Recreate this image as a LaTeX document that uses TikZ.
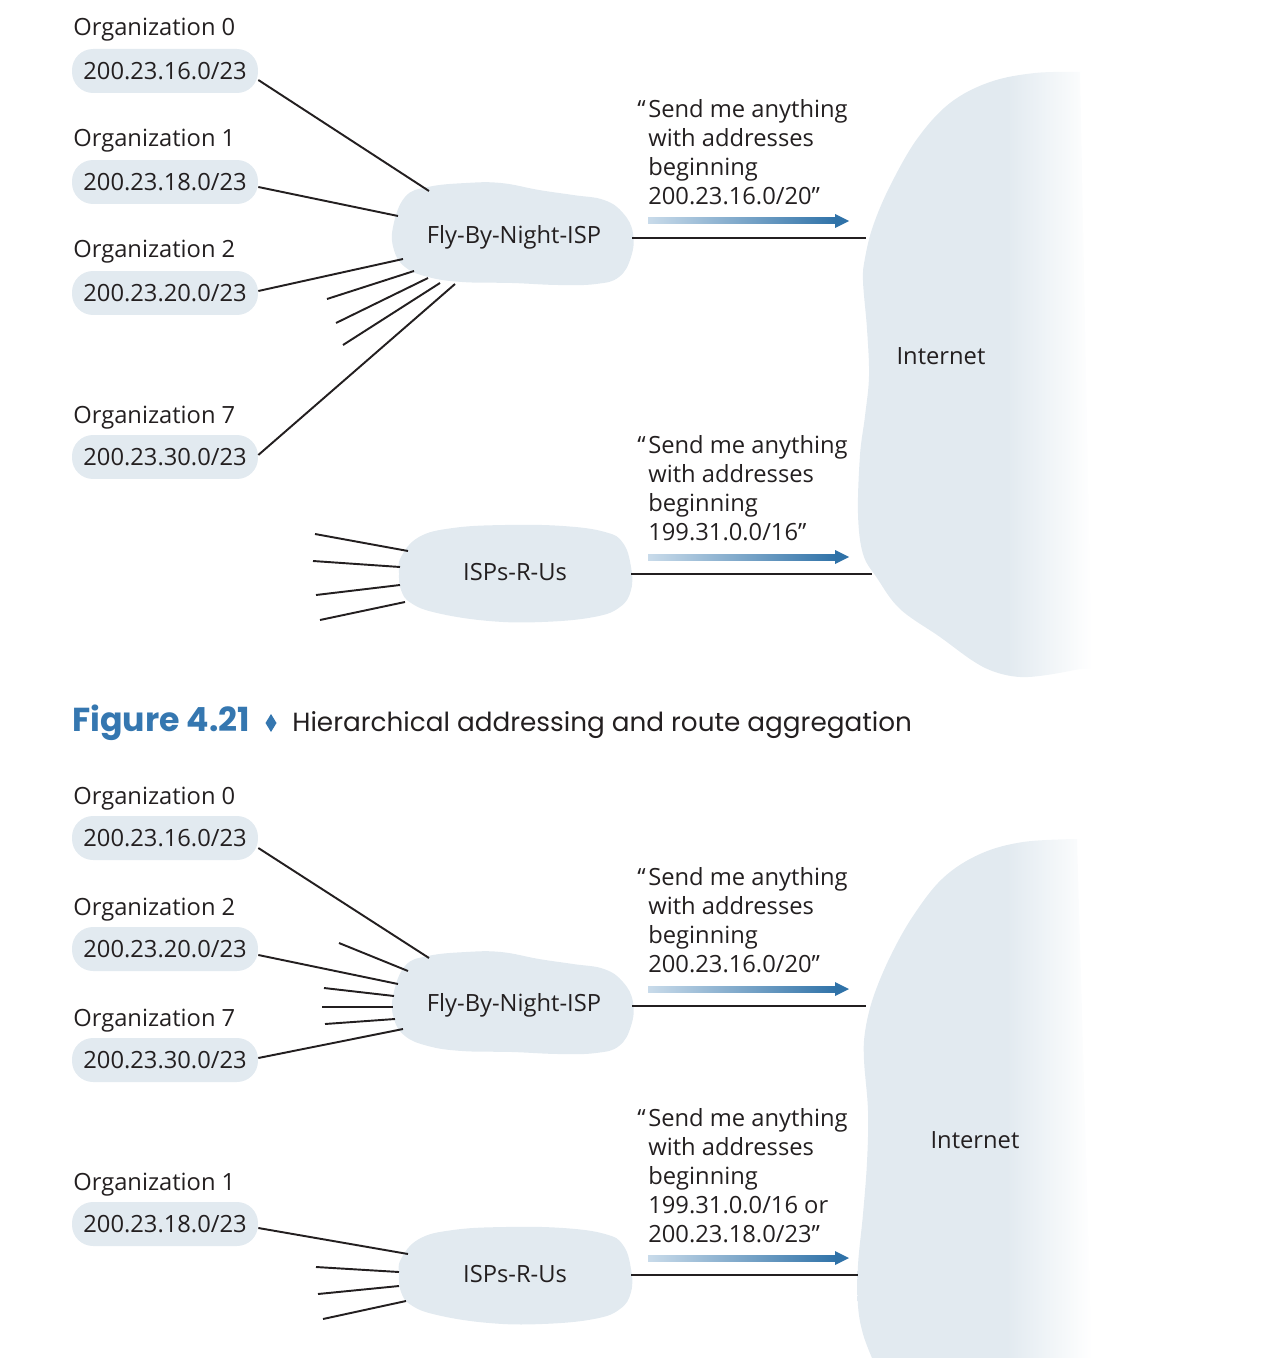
\documentclass[tikz,border=0pt]{standalone}
\usepackage{fontspec}
\setmainfont{Open Sans}
\newfontfamily\capfont{Poppins}
\definecolor{cloudc}{HTML}{E2EAF0}
\definecolor{txt}{HTML}{231F20}
\definecolor{ablue}{HTML}{2F72A8}
\definecolor{alight}{HTML}{C9DBEA}
\definecolor{capblue}{HTML}{3577B0}
\pgfdeclarehorizontalshading{inetfade}{100bp}{color(0bp)=(cloudc); color(25bp)=(cloudc); color(57bp)=(cloudc); color(75bp)=(white); color(100bp)=(white)}
\tikzset{
  lnk/.style={line width=1.1pt, draw=txt},
  pill/.style={fill=cloudc, rounded corners=0.42cm, minimum width=3.72cm, minimum height=0.88cm, inner sep=0pt, text=txt},
  lbl/.style={anchor=base west, inner sep=0pt, text=txt},
  msg/.style={anchor=north west, inner sep=0pt, align=left, text=txt},
  cloudtxt/.style={inner sep=0pt, text=txt},
  fbnshape/.style={fill=cloudc},
}
\newcommand{\fbnpath}{plot[smooth cycle, tension=0.7] coordinates {(-120,-7) (-108,-37) (-85,-47) (-47,-51) (-12,-51) (26,-44) (60,-39) (91,-34) (110,-21) (120,-1) (118,23) (106,43) (83,50) (45,51) (-1,49) (-51,48) (-85,43) (-108,33) (-119,16)}}
\newcommand{\isppath}{plot[smooth cycle, tension=0.7] coordinates {(-116,1) (-114,-15) (-96,-35) (-62,-44) (-10,-47) (48,-46) (90,-40) (108,-29) (116,-5) (116,18) (105,35) (79,45) (27,50) (-26,49) (-78,41) (-104,31) (-114,18)}}
\newcommand{\sendarrow}[1]{%
  \shade[left color=alight, right color=ablue] (648,#1-3) rectangle (837,#1+3);
  \fill[ablue] (835,#1-7) -- (849,#1) -- (835,#1+7) -- cycle;}
\begin{document}
\begin{tikzpicture}[x=0.02cm, y=-0.02cm, font=\fontsize{13.5}{16.5}\selectfont]
\useasboundingbox (0,0) rectangle (1284,1358);

% ---------------- Internet blobs ----------------
\shade[shading=inetfade] (1092,72) -- (1080,72)
  plot[smooth, tension=0.6] coordinates {(1080,72) (1035,73) (990,82) (950,103) (917,139) (890,186) (873,226) (865,258) (863,281) (867,329) (869,376) (865,416) (860,455) (858,514) (863,554) (877,578) (900,609) (940,637) (973,661) (995,672) (1020,677) (1047,675) (1080,669)}
  -- (1092,669) -- cycle;
\shade[shading=inetfade] (1092,839) -- (1077,839)
  plot[smooth, tension=0.6] coordinates {(1077,839) (1023,842) (980,854) (943,878) (913,916) (890,957) (873,998) (865,1032) (864,1060) (868,1111) (867,1162) (863,1214) (858,1265) (858,1306) (863,1334) (872,1358)}
  -- (1092,1358) -- cycle;
\node[cloudtxt] (inet1) at (941,356) {Internet};
\node[cloudtxt] (inet2) at (975,1140) {Internet};

% ---------------- top panel ----------------
\node[lbl] (l0a) at (73,36) {Organization 0};
\node[pill] (o0a) at (165,71) {200.23.16.0/23};
\node[lbl] (l1a) at (73,147) {Organization 1};
\node[pill] (o1a) at (165,182) {200.23.18.0/23};
\node[lbl] (l2a) at (73,258) {Organization 2};
\node[pill] (o2a) at (165,293) {200.23.20.0/23};
\node[lbl] (l7a) at (73,423) {Organization 7};
\node[pill] (o7a) at (165,457) {200.23.30.0/23};

\fill[fbnshape, shift={(513,234)}] \fbnpath;
\node[cloudtxt] (fbn1) at (514,237) {Fly-By-Night-ISP};
\fill[fbnshape, shift={(515,572)}] \isppath;
\node[cloudtxt] (isp1) at (515,572) {ISPs-R-Us};

\coordinate (sa1) at (327,299);
\coordinate (sa2) at (336,323);
\coordinate (sa3) at (343,345);
\coordinate (sb1) at (315,534);
\coordinate (sb2) at (313,561);
\coordinate (sb3) at (316,595);
\coordinate (sb4) at (320,620);
\coordinate (ina1) at (866,238);
\coordinate (ina2) at (872,574);

\draw[lnk] ([shift={(0,9)}]o0a.east) -- ([shift={(-85,-46)}]fbn1.center);
\draw[lnk] ([shift={(0,5)}]o1a.east) -- ([shift={(-116,-21)}]fbn1.center);
\draw[lnk] ([shift={(0,-2)}]o2a.east) -- ([shift={(-111,22)}]fbn1.center);
\draw[lnk] (sa1) -- ([shift={(-100,34)}]fbn1.center);
\draw[lnk] (sa2) -- ([shift={(-86,41)}]fbn1.center);
\draw[lnk] (sa3) -- ([shift={(-74,46)}]fbn1.center);
\draw[lnk] ([shift={(0,-2)}]o7a.east) -- ([shift={(-59,47)}]fbn1.center);
\draw[lnk] ([shift={(118,1)}]fbn1.center) -- (ina1);

\draw[lnk] (sb1) -- ([shift={(-107,-21)}]isp1.center);
\draw[lnk] (sb2) -- ([shift={(-115,-5)}]isp1.center);
\draw[lnk] (sb3) -- ([shift={(-115,13)}]isp1.center);
\draw[lnk] (sb4) -- ([shift={(-110,30)}]isp1.center);
\draw[lnk] ([shift={(116,2)}]isp1.center) -- (ina2);

\sendarrow{221}
\sendarrow{557}
\node[msg] (ma1) at (648,99) {\llap{“\kern1.5pt}Send me anything\\with addresses\\beginning\\200.23.16.0/20”};
\node[msg] (ma2) at (648,435) {\llap{“\kern1.5pt}Send me anything\\with addresses\\beginning\\199.31.0.0/16”};

% ---------------- caption ----------------
\node[anchor=base west, inner sep=0pt, text=capblue, font=\capfont\bfseries\fontsize{18.9}{22}\selectfont] (figno) at (72,731) {Figure 4.21};
\fill[capblue] (271,714) -- (276.5,723) -- (271,732) -- (265.5,723) -- cycle;
\node[anchor=base west, inner sep=0pt, text=txt, font=\capfont\fontsize{14.95}{18}\selectfont] (cap) at (292,731) {Hierarchical addressing and route aggregation};

% ---------------- bottom panel ----------------
\node[lbl] (l0b) at (73,804) {Organization 0};
\node[pill] (o0b) at (165,838) {200.23.16.0/23};
\node[lbl] (l2b) at (73,915) {Organization 2};
\node[pill] (o2b) at (165,949) {200.23.20.0/23};
\node[lbl] (l7b) at (73,1026) {Organization 7};
\node[pill] (o7b) at (165,1060) {200.23.30.0/23};
\node[lbl] (l1b) at (73,1190) {Organization 1};
\node[pill] (o1b) at (165,1224) {200.23.18.0/23};

\fill[fbnshape, shift={(513,1003)}] \fbnpath;
\node[cloudtxt] (fbn2) at (514,1005) {Fly-By-Night-ISP};
\fill[fbnshape, shift={(515,1274)}] \isppath;
\node[cloudtxt] (isp2) at (515,1274) {ISPs-R-Us};

\coordinate (sc1) at (339,943);
\coordinate (sc2) at (324,988);
\coordinate (sc3) at (322,1007);
\coordinate (sc4) at (325,1024);
\coordinate (sd1) at (316,1267);
\coordinate (sd2) at (318,1294);
\coordinate (sd3) at (323,1319);
\coordinate (inb1) at (866,1006);
\coordinate (inb2) at (858,1275);

\draw[lnk] ([shift={(0,10)}]o0b.east) -- ([shift={(-85,-47)}]fbn2.center);
\draw[lnk] (sc1) -- ([shift={(-106,-34)}]fbn2.center);
\draw[lnk] ([shift={(0,6)}]o2b.east) -- ([shift={(-116,-21)}]fbn2.center);
\draw[lnk] (sc2) -- ([shift={(-120,-9)}]fbn2.center);
\draw[lnk] (sc3) -- ([shift={(-121,2)}]fbn2.center);
\draw[lnk] (sc4) -- ([shift={(-119,14)}]fbn2.center);
\draw[lnk] ([shift={(0,-2)}]o7b.east) -- ([shift={(-111,24)}]fbn2.center);
\draw[lnk] ([shift={(118,1)}]fbn2.center) -- (inb1);

\draw[lnk] ([shift={(0,4)}]o1b.east) -- ([shift={(-107,-20)}]isp2.center);
\draw[lnk] (sd1) -- ([shift={(-116,-2)}]isp2.center);
\draw[lnk] (sd2) -- ([shift={(-116,12)}]isp2.center);
\draw[lnk] (sd3) -- ([shift={(-109,27)}]isp2.center);
\draw[lnk] ([shift={(116,1)}]isp2.center) -- (inb2);

\sendarrow{989}
\sendarrow{1258}
\node[msg] (mb1) at (648,867) {\llap{“\kern1.5pt}Send me anything\\with addresses\\beginning\\200.23.16.0/20”};
\node[msg] (mb2) at (648,1108) {\llap{“\kern1.5pt}Send me anything\\with addresses\\beginning\\199.31.0.0/16 or\\200.23.18.0/23”};
\end{tikzpicture}
\end{document}
